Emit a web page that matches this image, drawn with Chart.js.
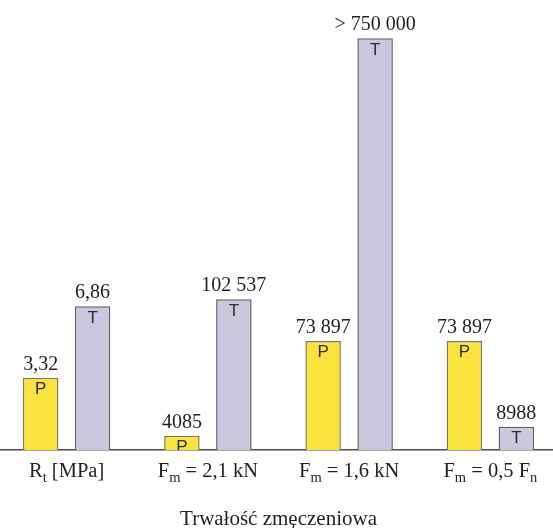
<!DOCTYPE html>
<html lang="pl">
<head>
<meta charset="utf-8">
<title>Trwałość zmęczeniowa</title>
<script src="https://cdn.jsdelivr.net/npm/chart.js@4.4.1/dist/chart.umd.min.js"></script>
<style>
  html, body { margin: 0; padding: 0; background: #ffffff; overflow: hidden; }
  #wrap { width: 553px; height: 528px; overflow: hidden; }
  /* the plot runs slightly past both page edges */
  #chart { display: block; margin-left: -4px; }
</style>
</head>
<body>
<div id="wrap"><canvas id="chart" width="565" height="528"></canvas></div>
<script>
// Test groups (x axis); "_{...}" marks a subscript
const groupLabels = ["R_{t} [MPa]", "F_{m} = 2,1 kN", "F_{m} = 1,6 kN", "F_{m} = 0,5 F_{n}"];
// Results for specimen series P and T
const valuesP = [3.32, 4085, 73897, 73897];
const valuesT = [6.86, 102537, 750000, 8988];
// T at 1,6 kN: test stopped without failure, value is a lower bound
const lowerBoundT = [false, false, true, false];
const seriesNames = ["P", "T"];
// Each group is plotted on its own hidden value scale
const groupScaleMin = [-0.25, -6240, -169600, -8660];
const groupScaleMax = [21, 304100, 790900, 317000];
const axisTitle = "Trwałość zmęczeniowa";

const SERIF = "'Liberation Serif', 'Times New Roman', serif";
const SANS = "'Liberation Sans', Arial, sans-serif";
const TEXT = "#231f20";

const seriesValues = [valuesP, valuesT];
const seriesLowerBound = [[false, false, false, false], lowerBoundT];
const seriesFill = ["#f9e33c", "#c9c8dd"];
const seriesBorder = ["#7f7a55", "#5f5f68"];

// Polish number style: decimal comma, grouping only from five digits up
function formatPl(v) {
  const parts = String(v).split(".");
  let intPart = parts[0];
  if (intPart.length > 4) intPart = intPart.replace(/\B(?=(\d{3})+(?!\d))/g, " ");
  return parts[1] ? intPart + "," + parts[1] : intPart;
}

// Draws a label with "_{...}" parts set as subscripts, centred on cx
function drawRichLabel(ctx, text, cx, y) {
  const parts = [];
  const re = /_\{([^}]*)\}/g;
  let last = 0, m;
  while ((m = re.exec(text))) {
    if (m.index > last) parts.push({ t: text.slice(last, m.index), sub: false });
    parts.push({ t: m[1], sub: true });
    last = re.lastIndex;
  }
  if (last < text.length) parts.push({ t: text.slice(last), sub: false });
  const mainFont = "20.5px " + SERIF;
  const subFont = "14.5px " + SERIF;
  let total = 0;
  parts.forEach(p => {
    ctx.font = p.sub ? subFont : mainFont;
    p.w = ctx.measureText(p.t).width;
    total += p.w;
  });
  let x = cx - total / 2;
  ctx.textAlign = "left";
  ctx.textBaseline = "alphabetic";
  parts.forEach(p => {
    ctx.font = p.sub ? subFont : mainFont;
    ctx.fillText(p.t, x, p.sub ? y + 5 : y);
    x += p.w;
  });
}

const datasets = [];
groupLabels.forEach((_, g) => {
  seriesNames.forEach((name, s) => {
    datasets.push({
      label: name,
      seriesIndex: s,
      data: groupLabels.map((__, i) => (i === g ? seriesValues[s][i] : null)),
      yAxisID: "y" + g,
      base: groupScaleMin[g],
      skipNull: true,
      backgroundColor: seriesFill[s],
      borderColor: seriesBorder[s],
      borderWidth: 1.5,
      borderSkipped: "start",
      categoryPercentage: 0.736,
      barPercentage: 0.683
    });
  });
});

const scales = {
  x: {
    type: "category",
    grid: { display: false, drawTicks: false },
    border: { display: true, color: "#4d4d4d", width: 1.5 },
    ticks: { display: false },
    title: {
      display: true,
      text: axisTitle,
      color: TEXT,
      font: { family: SERIF, size: 21, lineHeight: 0.8 },
      padding: { top: 61.2, bottom: 0 }
    }
  }
};
groupLabels.forEach((_, g) => {
  scales["y" + g] = { type: "linear", display: false, min: groupScaleMin[g], max: groupScaleMax[g] };
});

const barAnnotations = {
  id: "barAnnotations",
  afterDatasetsDraw(chart) {
    const ctx = chart.ctx;
    chart.data.datasets.forEach((ds, di) => {
      const meta = chart.getDatasetMeta(di);
      meta.data.forEach((bar, i) => {
        const v = ds.data[i];
        if (v === null || v === undefined) return;
        const s = ds.seriesIndex;
        const top = Math.min(bar.y, bar.base);
        const bottom = Math.max(bar.y, bar.base);
        // series letter inside the top of the bar
        ctx.save();
        ctx.beginPath();
        ctx.rect(bar.x - bar.width / 2, top, bar.width, bottom - top);
        ctx.clip();
        ctx.font = "17px " + SANS;
        ctx.fillStyle = "#2b2b2b";
        ctx.textAlign = "center";
        ctx.textBaseline = "alphabetic";
        ctx.fillText(seriesNames[s], bar.x, top + 16.5);
        ctx.restore();
        // value above the bar
        ctx.save();
        ctx.font = "20px " + SERIF;
        ctx.fillStyle = TEXT;
        ctx.textAlign = "center";
        ctx.textBaseline = "alphabetic";
        const txt = (seriesLowerBound[s][i] ? "> " : "") + formatPl(v);
        ctx.fillText(txt, bar.x, top - 8);
        ctx.restore();
      });
    });
    // group labels under the axis
    const xs = chart.scales.x;
    ctx.save();
    ctx.fillStyle = TEXT;
    groupLabels.forEach((lbl, g) => {
      drawRichLabel(ctx, lbl, xs.getPixelForValue(g), chart.chartArea.bottom + 27);
    });
    ctx.restore();
  }
};

new Chart(document.getElementById("chart"), {
  type: "bar",
  data: { labels: groupLabels, datasets },
  options: {
    responsive: false,
    devicePixelRatio: 1,
    animation: false,
    layout: { padding: { top: 20, left: 0, right: 0, bottom: 0 } },
    plugins: { legend: { display: false }, tooltip: { enabled: false }, title: { display: false } },
    scales
  },
  plugins: [barAnnotations]
});
</script>
</body>
</html>
